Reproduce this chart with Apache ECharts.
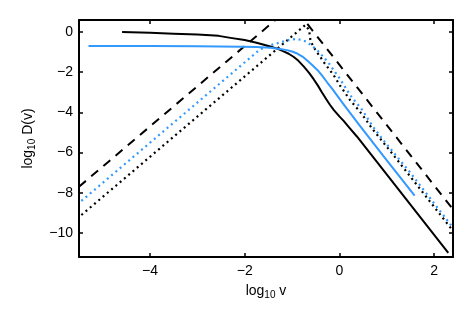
<!DOCTYPE html>
<html><head><meta charset="utf-8">
<script src="https://cdn.jsdelivr.net/npm/echarts@6/dist/echarts.min.js"></script>
<style>html,body{margin:0;padding:0;background:#fff}#c{width:472px;height:316px}</style>
</head><body><div id="c"></div>
<script>
// Tick values
const xTicks = [-4, -2, 0, 2];
const yTicks = [-10, -8, -6, -4, -2, 0];

// Solid black curve
const solidBlackX = [-4.59, -4.0, -3.5, -3.0, -2.55, -2.3, -2.0, -1.75, -1.46, -1.3, -1.18, -1.07, -0.97, -0.87, -0.75, -0.64, -0.54, -0.45, -0.37, -0.28, -0.2, -0.12, 0.0, 0.09, 0.2, 0.37, 0.66, 2.3];
const solidBlackY = [0.0, -0.04, -0.08, -0.12, -0.19, -0.29, -0.4, -0.53, -0.72, -0.84, -0.96, -1.08, -1.23, -1.42, -1.72, -2.03, -2.36, -2.68, -3.0, -3.33, -3.62, -3.87, -4.2, -4.42, -4.73, -5.2, -6.07, -11.0];

// Solid blue curve
const solidBlueX = [-5.3, -4.0, -3.0, -2.06, -1.75, -1.46, -1.25, -1.11, -1.0, -0.89, -0.78, -0.68, -0.57, -0.46, -0.36, -0.26, -0.15, -0.05, 0.09, 0.25, 0.41, 1.01, 1.59];
const solidBlueY = [-0.7, -0.7, -0.71, -0.73, -0.75, -0.78, -0.84, -0.9, -0.97, -1.07, -1.22, -1.42, -1.65, -1.9, -2.18, -2.5, -2.83, -3.15, -3.6, -4.1, -4.6, -6.41, -8.15];

// Dashed black curve
const dashedX = [-5.5, -0.986, 2.4];
const dashedY = [-7.7, 1.33, -8.83];

// Dotted black curve
const dottedBlackX = [-5.45, -0.9, -0.8, -0.72, -0.68, -0.64, -0.61, -0.51, -0.4, -0.33, -0.12, 0.01, 0.23, 0.48, 0.69, 1.15, 2.36];
const dottedBlackY = [-9.11, -0.01, 0.19, 0.35, 0.41, 0.1, -0.45, -0.88, -1.25, -1.5, -2.15, -2.65, -3.4, -4.1, -4.8, -6.15, -9.78];

// Dotted blue curve
const dottedBlueX = [-5.45, -1.74, -1.62, -1.5, -1.39, -1.25, -1.14, -1.04, -0.91, -0.8, -0.7, -0.61, -0.47, -0.39, -0.23, -0.12, 0.01, 0.23, 0.48, 0.69, 0.9, 1.5, 2.36];
const dottedBlueY = [-8.41, -0.99, -0.8, -0.69, -0.61, -0.52, -0.44, -0.38, -0.35, -0.39, -0.48, -0.63, -0.9, -1.1, -1.53, -1.9, -2.32, -3.15, -3.87, -4.65, -5.3, -7.01, -9.62];

const pair = (xs, ys) => xs.map((x, i) => [x, ys[i]]);
const FONT = '"Liberation Sans", Arial, Helvetica, sans-serif';
const BLUE = '#3399ff';
const fmt = v => String(v).replace('-', '\u2212');
const rich = {
  a: { fontSize: 14, fontFamily: FONT, color: '#000' },
  b: { fontSize: 10, fontFamily: FONT, color: '#000', padding: [8, 0, 0, 0] }
};
const axisLine = { onZero: false, lineStyle: { color: '#000', width: 2 } };
const tickStyle = { color: '#000', width: 1.5 };

const chart = echarts.init(document.getElementById('c'), null, { renderer: 'canvas' });
chart.setOption({
  animation: false,
  backgroundColor: '#fff',
  grid: { left: 79, right: 19, top: 20, bottom: 59 },
  xAxis: [
    {
      type: 'value', min: -5.5, max: 2.4, position: 'bottom',
      axisLine: axisLine,
      axisTick: { inside: true, length: 4, lineStyle: tickStyle, customValues: xTicks },
      axisLabel: { customValues: xTicks, formatter: fmt, color: '#000', fontSize: 14, fontFamily: FONT, margin: 7 },
      splitLine: { show: false },
      name: '{a|log}{b|10}{a| v}', nameLocation: 'middle', nameGap: 25,
      nameTextStyle: { rich: rich, fontSize: 14, fontFamily: FONT, color: '#000' }
    },
    {
      type: 'value', min: -5.5, max: 2.4, position: 'top',
      axisLine: axisLine,
      axisTick: { inside: true, length: 4, lineStyle: tickStyle, customValues: xTicks },
      axisLabel: { show: false },
      splitLine: { show: false }
    }
  ],
  yAxis: [
    {
      type: 'value', min: -11.2, max: 0.6, position: 'left',
      axisLine: axisLine,
      axisTick: { inside: true, length: 4, lineStyle: tickStyle, customValues: yTicks },
      axisLabel: { customValues: yTicks, formatter: fmt, color: '#000', fontSize: 14, fontFamily: FONT, margin: 6 },
      splitLine: { show: false },
      name: '{a|log}{b|10}{a| D(v)}', nameLocation: 'middle', nameGap: 42,
      nameTextStyle: { rich: rich, fontSize: 14, fontFamily: FONT, color: '#000' }
    },
    {
      type: 'value', min: -11.2, max: 0.6, position: 'right',
      axisLine: axisLine,
      axisTick: { inside: true, length: 4, lineStyle: tickStyle, customValues: yTicks },
      axisLabel: { show: false },
      splitLine: { show: false }
    }
  ],
  series: [
    { type: 'line', data: pair(dashedX, dashedY), showSymbol: false, symbol: 'none', clip: true,
      lineStyle: { color: '#000', width: 2, type: [9, 7] } },
    { type: 'line', data: pair(dottedBlackX, dottedBlackY), showSymbol: false, symbol: 'none', clip: true,
      lineStyle: { color: '#000', width: 2.2, type: [2, 3.6] } },
    { type: 'line', data: pair(dottedBlueX, dottedBlueY), showSymbol: false, symbol: 'none', clip: true,
      lineStyle: { color: BLUE, width: 2.2, type: [2, 3.6] } },
    { type: 'line', data: pair(solidBlackX, solidBlackY), showSymbol: false, symbol: 'none', clip: true,
      lineStyle: { color: '#000', width: 2, join: 'round' } },
    { type: 'line', data: pair(solidBlueX, solidBlueY), showSymbol: false, symbol: 'none', clip: true,
      lineStyle: { color: BLUE, width: 2, join: 'round' } }
  ]
});
</script></body></html>
